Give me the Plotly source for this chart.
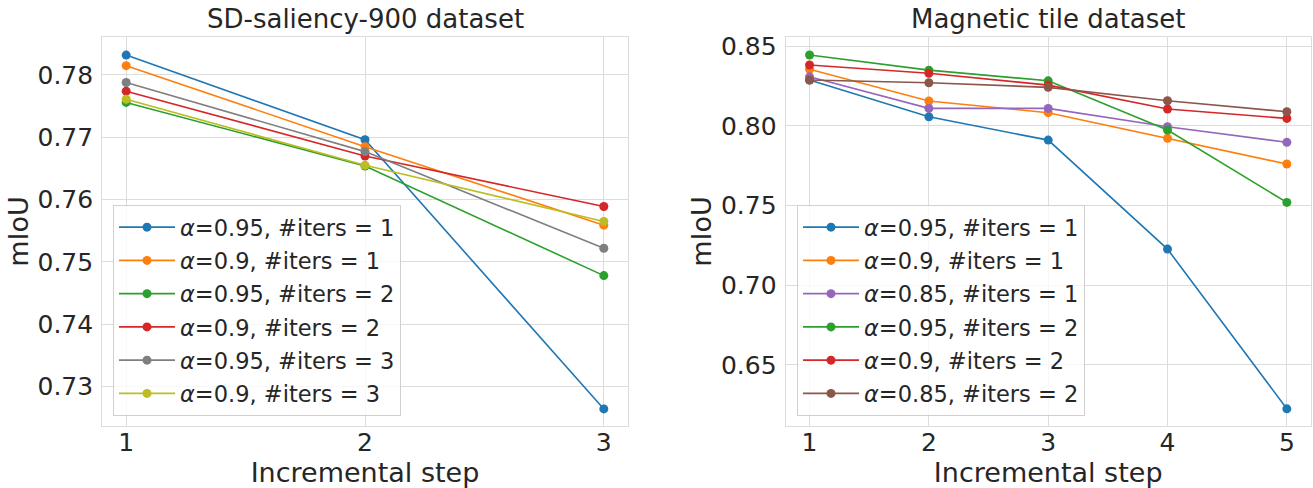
import plotly.graph_objects as go

# ---------------- data ----------------
steps_sd = [1, 2, 3]
sd_names = ["<i>α</i>=0.95, #iters = 1", "<i>α</i>=0.9, #iters = 1",
            "<i>α</i>=0.95, #iters = 2", "<i>α</i>=0.9, #iters = 2",
            "<i>α</i>=0.95, #iters = 3", "<i>α</i>=0.9, #iters = 3"]
sd_a095_i1 = [0.7832, 0.7696, 0.7264]
sd_a09_i1 = [0.7815, 0.7685, 0.7559]
sd_a095_i2 = [0.7756, 0.7654, 0.7478]
sd_a09_i2 = [0.7774, 0.7670, 0.7589]
sd_a095_i3 = [0.7788, 0.7677, 0.7522]
sd_a09_i3 = [0.7761, 0.7655, 0.7565]
sd_values = [sd_a095_i1, sd_a09_i1, sd_a095_i2, sd_a09_i2, sd_a095_i3, sd_a09_i3]
sd_colors = ["#1f77b4", "#ff7f0e", "#2ca02c", "#d62728", "#7f7f7f", "#bcbd22"]

steps_mt = [1, 2, 3, 4, 5]
mt_names = ["<i>α</i>=0.95, #iters = 1", "<i>α</i>=0.9, #iters = 1",
            "<i>α</i>=0.85, #iters = 1", "<i>α</i>=0.95, #iters = 2",
            "<i>α</i>=0.9, #iters = 2", "<i>α</i>=0.85, #iters = 2"]
mt_a095_i1 = [0.8287, 0.8056, 0.7910, 0.7226, 0.6224]
mt_a09_i1 = [0.8354, 0.8155, 0.8082, 0.7921, 0.7760]
mt_a085_i1 = [0.8307, 0.8109, 0.8109, 0.7994, 0.7896]
mt_a095_i2 = [0.8444, 0.8349, 0.8282, 0.7973, 0.7519]
mt_a09_i2 = [0.8381, 0.8329, 0.8255, 0.8105, 0.8046]
mt_a085_i2 = [0.8287, 0.8270, 0.8241, 0.8157, 0.8088]
mt_values = [mt_a095_i1, mt_a09_i1, mt_a085_i1, mt_a095_i2, mt_a09_i2, mt_a085_i2]
mt_colors = ["#1f77b4", "#ff7f0e", "#9467bd", "#2ca02c", "#d62728", "#8c564b"]

sd_yticks = [0.73, 0.74, 0.75, 0.76, 0.77, 0.78]
mt_yticks = [0.65, 0.70, 0.75, 0.80, 0.85]

titles = ["SD-saliency-900 dataset", "Magnetic tile dataset"]
x_title = "Incremental step"
y_title = "mIoU"

# ---------------- figure ----------------
W, H = 1313, 488
TXT = "#262626"
GRID = "#dcdcdc"
FONT = "DejaVu Sans"

fig = go.Figure()

for i, (name, vals, col) in enumerate(zip(sd_names, sd_values, sd_colors)):
    fig.add_trace(go.Scatter(x=steps_sd, y=vals, name=name, mode="lines+markers",
                             line=dict(color=col, width=1.6),
                             marker=dict(color=col, size=9),
                             xaxis="x", yaxis="y", legend="legend",
                             legendgroup=f"sd{i}"))
for i, (name, vals, col) in enumerate(zip(mt_names, mt_values, mt_colors)):
    fig.add_trace(go.Scatter(x=steps_mt, y=vals, name=name, mode="lines+markers",
                             line=dict(color=col, width=1.6),
                             marker=dict(color=col, size=9),
                             xaxis="x2", yaxis="y2", legend="legend2",
                             legendgroup=f"mt{i}"))

ydom = [1 - 425.7 / H, 1 - 37.3 / H]
axis_common = dict(showgrid=True, gridcolor=GRID, gridwidth=1, showline=True,
                   linecolor=GRID, linewidth=1.2, mirror=True, zeroline=False,
                   ticks="", tickfont=dict(size=25, color=TXT, family=FONT),
                   automargin=False)

legend_common = dict(y=1 - 205 / H, xanchor="left", yanchor="top",
                     bgcolor="rgba(255,255,255,0.8)", bordercolor="#d0d0d0",
                     borderwidth=1, font=dict(size=22.5, color=TXT, family=FONT),
                     itemwidth=56, tracegroupgap=1)

title_font = dict(size=26, color=TXT, family=FONT)
axis_title_font = dict(size=27, color=TXT, family=FONT)

fig.update_layout(
    width=W, height=H,
    margin=dict(l=0, r=0, t=0, b=0),
    paper_bgcolor="white", plot_bgcolor="white",
    font=dict(family=FONT, color=TXT),
    showlegend=True,
    xaxis=dict(domain=[102.3 / W, 627.7 / W], range=[0.9, 3.1],
               tickvals=steps_sd, anchor="y", ticklabelstandoff=-6,
               title=dict(text=x_title, font=axis_title_font, standoff=14),
               **axis_common),
    yaxis=dict(domain=ydom, range=[0.72371, 0.78605], tickvals=sd_yticks,
               tickformat=".2f", anchor="x", ticklabelstandoff=3,
               title=dict(text=y_title, font=axis_title_font, standoff=1),
               **axis_common),
    xaxis2=dict(domain=[785.7 / W, 1310.7 / W], range=[0.8, 5.2],
                tickvals=steps_mt, anchor="y2", ticklabelstandoff=-6,
                title=dict(text=x_title, font=axis_title_font, standoff=14),
                **axis_common),
    yaxis2=dict(domain=ydom, range=[0.6118, 0.8555], tickvals=mt_yticks,
                tickformat=".2f", anchor="x2", ticklabelstandoff=3,
                title=dict(text=y_title, font=axis_title_font, standoff=1),
                **axis_common),
    legend=dict(x=113 / W, **legend_common),
    legend2=dict(x=797 / W, **legend_common),
    annotations=[
        dict(text=titles[0], x=(102.3 + 627.7) / 2 / W, y=1 - 36 / H, xref="paper",
             yref="paper", xanchor="center", yanchor="bottom", showarrow=False,
             font=title_font),
        dict(text=titles[1], x=(785.7 + 1310.7) / 2 / W, y=1 - 36 / H, xref="paper",
             yref="paper", xanchor="center", yanchor="bottom", showarrow=False,
             font=title_font),
    ],
)

fig.write_html("out.html", config={"displayModeBar": False},
               post_script="document.body.style.margin='0px';"
                           "document.body.style.padding='0px';")
